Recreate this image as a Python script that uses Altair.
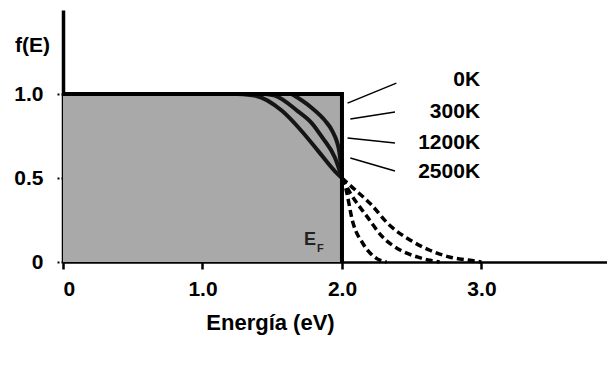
import altair as alt
import pandas as pd

# ---- data ----
# 0 K step (Fermi level 2.0 eV)
E_0K = [0.0, 2.0, 2.0]
f_0K = [1.0, 1.0, 0.0]

# finite temperature curves, part below E_F (solid) and above E_F (dashed)
E_300_in = [1.64, 1.78, 1.88, 1.93, 1.98, 2.0]
f_300_in = [1.0, 0.92, 0.84, 0.78, 0.66, 0.5]
E_300_out = [2.0, 2.02, 2.08, 2.15, 2.25, 2.32]
f_300_out = [0.5, 0.46, 0.23, 0.11, 0.02, 0.0]

E_1200_in = [1.45, 1.52, 1.68, 1.78, 1.86, 1.95, 2.0]
f_1200_in = [1.0, 0.99, 0.90, 0.83, 0.74, 0.62, 0.5]
E_1200_out = [2.0, 2.06, 2.18, 2.29, 2.42, 2.54, 2.63, 2.7]
f_1200_out = [0.5, 0.41, 0.27, 0.15, 0.07, 0.03, 0.01, 0.0]

E_2500_in = [1.25, 1.38, 1.57, 1.71, 1.83, 1.95, 2.0]
f_2500_in = [1.0, 0.99, 0.90, 0.78, 0.66, 0.54, 0.5]
E_2500_out = [2.0, 2.08, 2.20, 2.34, 2.49, 2.63, 2.77, 2.92, 3.0]
f_2500_out = [0.5, 0.44, 0.35, 0.22, 0.13, 0.07, 0.03, 0.01, 0.0]

labels = ["0K", "300K", "1200K", "2500K"]
label_E = [2.99, 2.99, 2.99, 2.99]
label_f = [1.083, 0.893, 0.708, 0.536]
ptr_E1 = [2.04, 2.06, 2.04, 2.06]
ptr_f1 = [0.946, 0.851, 0.738, 0.619]
ptr_E2 = [2.39, 2.38, 2.38, 2.38]
ptr_f2 = [1.065, 0.893, 0.708, 0.542]

x_ticks = [0, 1, 2, 3]
y_ticks = [0, 0.5, 1.0]

# ---- tables ----
def mk(E, f, name, part):
    return pd.DataFrame({"E": E, "f": f, "T": name, "part": part, "i": range(len(E))})

curves = pd.concat([
    mk(E_300_in, f_300_in, "300K", "in"), mk(E_300_out, f_300_out, "300K", "out"),
    mk(E_1200_in, f_1200_in, "1200K", "in"), mk(E_1200_out, f_1200_out, "1200K", "out"),
    mk(E_2500_in, f_2500_in, "2500K", "in"), mk(E_2500_out, f_2500_out, "2500K", "out"),
], ignore_index=True)

step = pd.DataFrame({"E": E_0K, "f": f_0K, "i": range(len(E_0K))})
box = pd.DataFrame({"E": [min(E_0K)], "E2": [max(E_0K)], "f": [0.0], "f2": [max(f_0K)]})
lab = pd.DataFrame({"label": labels, "E": label_E, "f": label_f})
ptr = pd.DataFrame({"E": ptr_E1, "f": ptr_f1, "E2": ptr_E2, "f2": ptr_f2})
ef = pd.DataFrame({"E": [1.77], "f": [0.13], "t": ["E"]})
ef_sub = pd.DataFrame({"E": [1.845], "f": [0.08], "t": ["F"]})

FONT = "Liberation Sans"
FS = 21
lbl_expr = "datum.value == 0 ? '0' : format(datum.value, '.1f')"
xs = alt.Scale(domain=[0, 3.9], nice=False, zero=False)
ys = alt.Scale(domain=[0, 1.5], nice=False)

X = alt.X("E:Q", scale=xs, axis=alt.Axis(
    values=x_ticks, labelExpr=lbl_expr, title="Energía (eV)", grid=False,
    domainWidth=2.5, domainColor="black", tickColor="black", tickWidth=2.5, tickSize=7,
    labelPadding=9, labelFontSize=FS, labelFont=FONT, labelFontWeight="bold",
    labelColor="black", titleFontSize=FS + 1, titleFont=FONT, titleFontWeight="bold",
    titleColor="black", titleX=207, titleY=60, titleAnchor="middle", titleAlign="center",
    titleBaseline="middle"))
Y = alt.Y("f:Q", scale=ys, axis=alt.Axis(
    values=y_ticks, labelExpr=lbl_expr, title="f(E)", grid=False,
    domainWidth=3.5, domainColor="black", tickColor="black", tickWidth=2, tickSize=7,
    tickDash=[2, 2], labelPadding=13, labelFontSize=FS, labelFont=FONT,
    labelFontWeight="bold", labelColor="black", titleFontSize=FS, titleFont=FONT,
    titleFontWeight="bold", titleColor="black", titleAngle=0, titleX=-31, titleY=35,
    titleAlign="center", titleBaseline="middle"))

rect = alt.Chart(box).mark_rect(color="#a9a9a9").encode(
    x=X, x2="E2:Q", y=Y, y2="f2:Q")

solid = alt.Chart(curves).transform_filter(alt.datum.part == "in").mark_line(
    color="#151515", strokeWidth=4, interpolate="monotone").encode(
    x="E:Q", y="f:Q", detail="T:N", order="i:Q")

dashed = alt.Chart(curves).transform_filter(alt.datum.part == "out").mark_line(
    color="black", strokeWidth=3.5, strokeDash=[7, 4], interpolate="monotone").encode(
    x="E:Q", y="f:Q", detail="T:N", order="i:Q")

step_line = alt.Chart(step).mark_line(color="black", strokeWidth=4, strokeJoin="miter").encode(
    x="E:Q", y="f:Q", order="i:Q")

pointers = alt.Chart(ptr).mark_rule(color="black", strokeWidth=1.5).encode(
    x="E:Q", y="f:Q", x2="E2:Q", y2="f2:Q")

texts = alt.Chart(lab).mark_text(align="right", baseline="middle", fontSize=FS,
                                 font=FONT, fontWeight="bold", color="black").encode(
    x="E:Q", y="f:Q", text="label:N")

ef_t = alt.Chart(ef).mark_text(align="center", baseline="middle", fontSize=18,
                               font=FONT, fontWeight="bold", color="#222").encode(
    x="E:Q", y="f:Q", text="t:N")
ef_s = alt.Chart(ef_sub).mark_text(align="center", baseline="middle", fontSize=11,
                                   font=FONT, fontWeight="bold", color="#222").encode(
    x="E:Q", y="f:Q", text="t:N")

chart = alt.layer(rect, solid, dashed, step_line, pointers, texts, ef_t, ef_s).properties(
    width=544, height=252,
    autosize=alt.AutoSizeParams(type="none"),
    padding={"left": 55, "top": 2, "right": 0, "bottom": 90},
    background="white",
).configure_view(stroke=None)

chart.save("out.html", embed_options={"renderer": "svg", "actions": False})
